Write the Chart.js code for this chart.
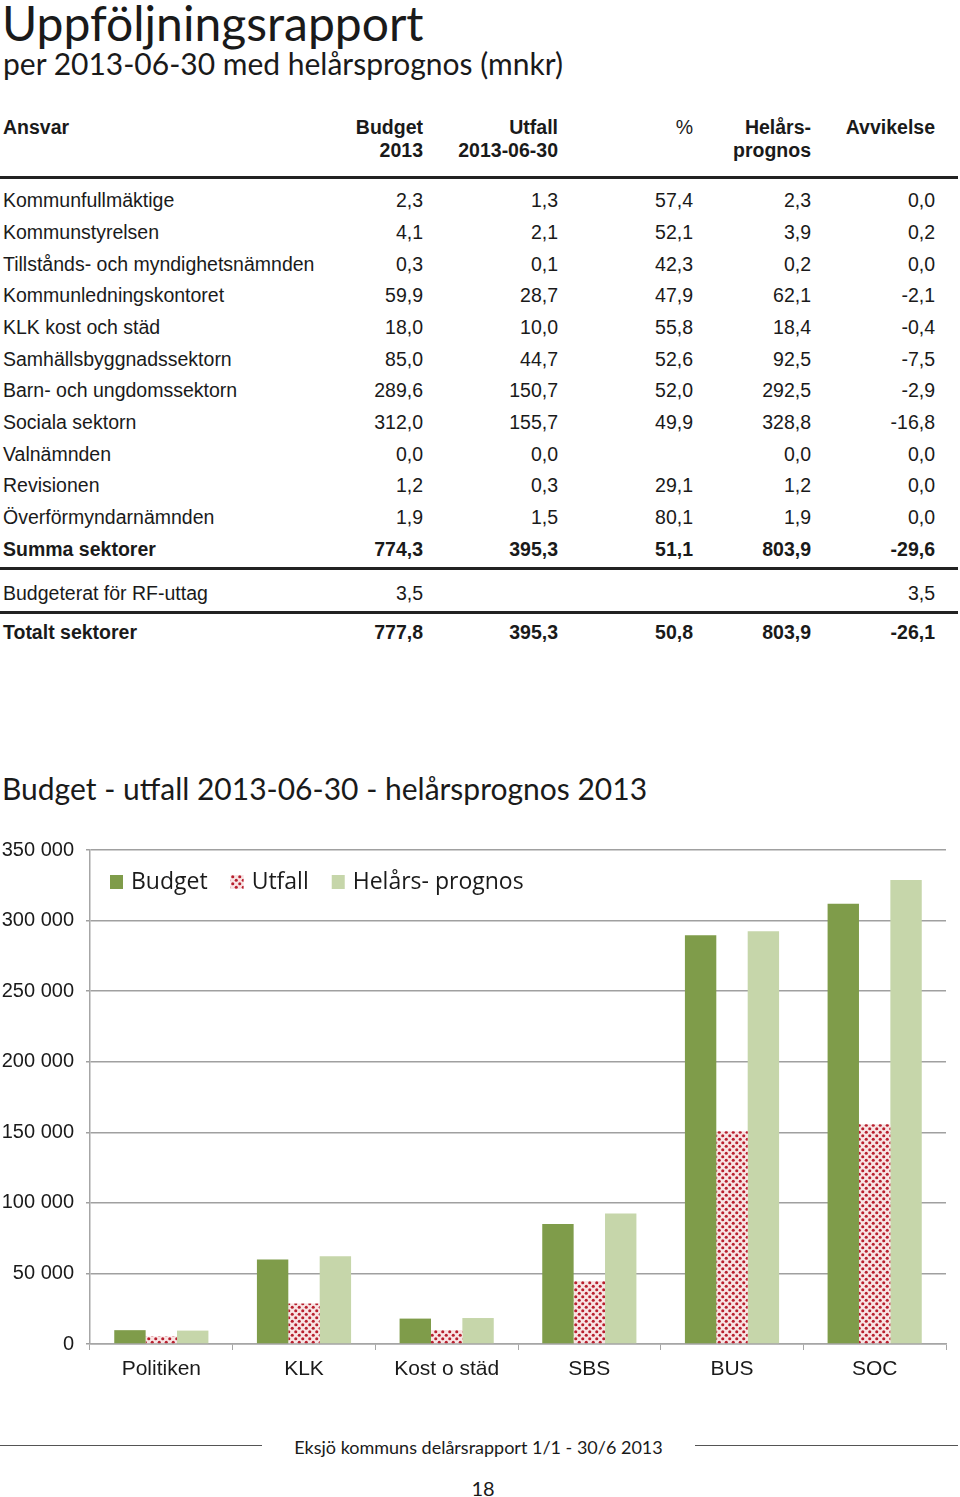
<!DOCTYPE html>
<html lang="sv">
<head>
<meta charset="utf-8">
<title>Uppföljningsrapport</title>
<script src="https://cdn.jsdelivr.net/npm/chart.js@4/dist/chart.umd.min.js"></script>
<style>
  html, body { margin: 0; padding: 0; background: #fff; }
  body { width: 960px; height: 1497px; position: relative; overflow: hidden; color: #1a1a1a; }
  .futura { font-family: "Lato", "Noto Sans", sans-serif; font-weight: 400; position: absolute; white-space: nowrap; }
  #title { left: 2px; top: -6px; font-size: 48px; }
  #subtitle { left: 3px; top: 45px; font-size: 30px; }
  #chartTitle { left: 2px; top: 770px; font-size: 30px; }
  #footer { left: 0; width: 957px; top: 1436px; text-align: center; font-size: 18px; }
  #pageNo { left: 0; width: 966px; top: 1476px; text-align: center; font-size: 20px; }
  .rule { position: absolute; background: #222; }
  .cell { position: absolute; font-family: "Liberation Sans", Arial, sans-serif; font-size: 19.5px; white-space: nowrap; line-height: 22px; }
  .num { text-align: right; }
  .b { font-weight: bold; }
  #chartBox { position: absolute; left: 0; top: 826px; width: 960px; height: 584px; }
</style>
</head>
<body>
<div id="title" class="futura">Uppföljningsrapport</div>
<div id="subtitle" class="futura">per 2013-06-30 med helårsprognos (mnkr)</div>
<div id="table"></div>
<div id="chartTitle" class="futura">Budget - utfall 2013-06-30 - helårsprognos 2013</div>
<div id="chartBox"><canvas id="chart"></canvas></div>
<div class="rule" style="left:0;top:1445px;width:262px;height:1px;background:#555"></div>
<div class="rule" style="left:695px;top:1445px;width:263px;height:1px;background:#555"></div>
<div id="footer" class="futura">Eksjö kommuns delårsrapport 1/1 - 30/6 2013</div>
<div id="pageNo" class="futura">18</div>

<script>
// ===== Tabell =====
const ansvar = [
  "Kommunfullmäktige", "Kommunstyrelsen", "Tillstånds- och myndighetsnämnden",
  "Kommunledningskontoret", "KLK kost och städ", "Samhällsbyggnadssektorn",
  "Barn- och ungdomssektorn", "Sociala sektorn", "Valnämnden", "Revisionen",
  "Överförmyndarnämnden", "Summa sektorer"
];
const budget2013 = ["2,3", "4,1", "0,3", "59,9", "18,0", "85,0", "289,6", "312,0", "0,0", "1,2", "1,9", "774,3"];
const utfall0630 = ["1,3", "2,1", "0,1", "28,7", "10,0", "44,7", "150,7", "155,7", "0,0", "0,3", "1,5", "395,3"];
const procent = ["57,4", "52,1", "42,3", "47,9", "55,8", "52,6", "52,0", "49,9", "", "29,1", "80,1", "51,1"];
const helarsprognos = ["2,3", "3,9", "0,2", "62,1", "18,4", "92,5", "292,5", "328,8", "0,0", "1,2", "1,9", "803,9"];
const avvikelse = ["0,0", "0,2", "0,0", "-2,1", "-0,4", "-7,5", "-2,9", "-16,8", "0,0", "0,0", "0,0", "-29,6"];

const extraRows = [
  ["Budgeterat för RF-uttag", "3,5", "", "", "", "3,5"],
  ["Totalt sektorer", "777,8", "395,3", "50,8", "803,9", "-26,1"]
];

const colRight = [423, 558, 693, 811, 935];
const table = document.getElementById("table");

function cell(text, x, y, right, bold) {
  const d = document.createElement("div");
  d.className = "cell" + (right ? " num" : "") + (bold ? " b" : "");
  d.textContent = text;
  if (right) {
    d.style.left = (x - 300) + "px";
    d.style.width = "300px";
  } else {
    d.style.left = x + "px";
  }
  d.style.top = (y - 11) + "px";
  table.appendChild(d);
}

function rule(y, h) {
  const r = document.createElement("div");
  r.className = "rule";
  r.style.left = "0px";
  r.style.width = "958px";
  r.style.top = y + "px";
  r.style.height = h + "px";
  table.appendChild(r);
}

// rubriker
cell("Ansvar", 3, 127, false, true);
cell("Budget", colRight[0], 127, true, true);
cell("2013", colRight[0], 150, true, true);
cell("Utfall", colRight[1], 127, true, true);
cell("2013-06-30", colRight[1], 150, true, true);
cell("%", colRight[2], 127, true, false);
cell("Helårs-", colRight[3], 127, true, true);
cell("prognos", colRight[3], 150, true, true);
cell("Avvikelse", colRight[4], 127, true, true);
rule(176, 3);

const rowY = [200, 232, 264, 295, 327, 359, 390, 422, 454, 485, 517, 549];
ansvar.forEach((name, i) => {
  const bold = i === ansvar.length - 1;
  const y = rowY[i];
  cell(name, 3, y, false, bold);
  [budget2013[i], utfall0630[i], procent[i], helarsprognos[i], avvikelse[i]].forEach((v, j) => {
    if (v !== "") cell(v, colRight[j], y, true, bold);
  });
});
rule(567, 2.5);
[593, 632].forEach((y, k) => {
  const row = extraRows[k];
  const bold = k === 1;
  cell(row[0], 3, y, false, bold);
  row.slice(1).forEach((v, j) => {
    if (v !== "") cell(v, colRight[j], y, true, bold);
  });
});
rule(611, 2.5);

// ===== Diagram =====
const categories = ["Politiken", "KLK", "Kost o städ", "SBS", "BUS", "SOC"];
const budgetValues = [9800, 59900, 18000, 85000, 289600, 312000];
const utfallValues = [5300, 28700, 10000, 44700, 150700, 155700];
const prognosValues = [9500, 62100, 18400, 92500, 292500, 328800];
const yTicks = [0, 50000, 100000, 150000, 200000, 250000, 300000, 350000];

// prickmönster för Utfall
function dotPattern() {
  const c = document.createElement("canvas");
  c.width = 7;
  c.height = 7;
  const g = c.getContext("2d");
  g.fillStyle = "#f8e4e4";
  g.fillRect(0, 0, 7, 7);
  g.fillStyle = "#b8202f";
  [[1.75, 1.75], [5.25, 5.25]].forEach(([x, y]) => {
    g.beginPath();
    g.arc(x, y, 1.55, 0, Math.PI * 2);
    g.fill();
  });
  return g.createPattern(c, "repeat");
}

const ctx = document.getElementById("chart").getContext("2d");
const utfallFill = dotPattern();

// legend inne i diagramytan
const insideLegend = {
  id: "insideLegend",
  afterDraw(chart) {
    const c = chart.ctx;
    const a = chart.chartArea;
    const y = a.top + 32;
    c.save();
    c.font = '23px "Open Sans", sans-serif';
    c.textBaseline = "middle";
    let x = a.left + 20;
    chart.data.datasets.forEach((ds) => {
      c.fillStyle = ds.backgroundColor;
      c.fillRect(x, y - 7, 13, 14);
      c.fillStyle = "#1a1a1a";
      c.fillText(ds.label, x + 21, y);
      x += 21 + c.measureText(ds.label).width + 23;
    });
    c.restore();
  }
};

new Chart(ctx, {
  type: "bar",
  data: {
    labels: categories,
    datasets: [
      { label: "Budget", data: budgetValues, backgroundColor: "#7f9c4a" },
      { label: "Utfall", data: utfallValues, backgroundColor: utfallFill },
      { label: "Helårs- prognos", data: prognosValues, backgroundColor: "#c6d6aa" }
    ]
  },
  options: {
    responsive: true,
    maintainAspectRatio: false,
    animation: false,
    layout: { padding: { top: 15, right: 14, left: 0, bottom: 0 } },
    datasets: { bar: { categoryPercentage: 0.66, barPercentage: 1.0 } },
    plugins: { legend: { display: false }, tooltip: { enabled: false } },
    scales: {
      x: {
        grid: { drawOnChartArea: false, drawTicks: true, tickLength: 6, offset: true, color: "#a6a6a6" },
        border: { color: "#a6a6a6", width: 1.5 },
        ticks: { color: "#1a1a1a", font: { family: "Liberation Sans", size: 21 }, padding: 7 },
        afterFit: (s) => { s.height = 66; }
      },
      y: {
        min: 0,
        max: 350000,
        afterBuildTicks: (s) => { s.ticks = yTicks.map((v) => ({ value: v })); },
        grid: { color: "#a0a0a0", lineWidth: 1.5, tickLength: 4 },
        border: { color: "#a6a6a6", width: 1.5 },
        ticks: {
          color: "#1a1a1a",
          font: { family: "Liberation Sans", size: 20 },
          padding: 12,
          callback: (v) => v.toString().replace(/\B(?=(\d{3})+(?!\d))/g, " ")
        },
        afterFit: (s) => { s.width = 90; }
      }
    }
  },
  plugins: [insideLegend]
});
</script>
</body>
</html>
